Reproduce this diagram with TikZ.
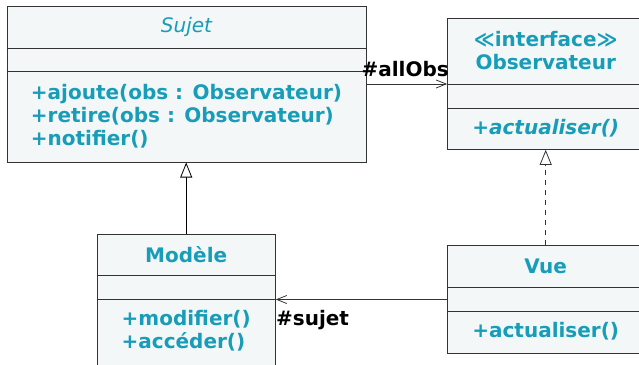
\documentclass[tikz,border=0pt]{standalone}
\usepackage{fontspec}
\setmainfont{DejaVu Sans}
\usetikzlibrary{arrows.meta,calc,positioning}

\definecolor{umlteal}{RGB}{23,157,184}
\definecolor{umlfill}{RGB}{244,247,248}
\definecolor{umlline}{RGB}{51,51,51}

\begin{document}
\begin{tikzpicture}[x=1pt,y=-1pt,
  classbox/.style={draw=umlline,fill=umlfill,line width=1pt,inner sep=0pt},
  sepline/.style={draw=umlline,line width=1pt},
  umltitle/.style={font=\fontsize{20}{23}\selectfont\bfseries,text=umlteal,align=center,inner sep=0pt},
  umlops/.style={font=\fontsize{20}{23}\selectfont\bfseries,text=umlteal,align=left,inner sep=0pt},
  role/.style={font=\fontsize{20}{23}\selectfont\bfseries,text=black,inner sep=0pt},
  inherit/.style={draw=black,line width=0.8pt,-{Triangle[open,length=15pt,width=12pt,fill=white]}},
  realize/.style={inherit,draw=umlline,dash pattern=on 5.5pt off 4.5pt},
  assoc/.style={draw=umlline,line width=0.8pt,-{Straight Barb[length=10pt,width=8pt,line width=0.8pt]}}]
\useasboundingbox (0,0) rectangle (639,364);
\clip (0,0) rectangle (639,364);

% Sujet
\node[classbox,minimum width=359pt,minimum height=156pt] (sujet) at (186.5,84) {};
\draw[sepline] (sujet.west |- 0,48.3) -- (sujet.east |- 0,48.3);
\draw[sepline] (sujet.west |- 0,71.7) -- (sujet.east |- 0,71.7);
\node[umltitle,font=\fontsize{20}{23}\selectfont\itshape] (sujetname) at (186.5,27) {Sujet};
\node[umlops] (sujetops) at (186.5,116) {+ajoute(obs : Observateur)\\+retire(obs : Observateur)\\+notifier()};

% Observateur
\node[classbox,minimum width=196pt,minimum height=131pt] (observateur) at (545.7,83.8) {};
\draw[sepline] (observateur.west |- 0,84.3) -- (observateur.east |- 0,84.3);
\draw[sepline] (observateur.west |- 0,108) -- (observateur.east |- 0,108);
\node[umltitle] (obsname) at (545.7,51) {≪interface≫\\Observateur};
\node[umlops,font=\fontsize{20}{23}\selectfont\bfseries\itshape] (obsops) at (545.7,128.5) {+actualiser()};

% Modele
\node[classbox,minimum width=178pt,minimum height=134pt] (modele) at (186.2,301) {};
\draw[sepline] (modele.west |- 0,275.3) -- (modele.east |- 0,275.3);
\draw[sepline] (modele.west |- 0,299.3) -- (modele.east |- 0,299.3);
\node[umltitle] (modelename) at (186.2,254.5) {Modèle};
\node[umlops] (modeleops) at (186.2,331) {+modifier()\\+accéder()};

% Vue
\node[classbox,minimum width=196pt,minimum height=107.6pt] (vue) at (545.7,299.5) {};
\draw[sepline] (vue.west |- 0,287.7) -- (vue.east |- 0,287.7);
\draw[sepline] (vue.west |- 0,311) -- (vue.east |- 0,311);
\node[umltitle] (vuename) at (545.7,266.5) {Vue};
\node[umlops] (vueops) at (545.7,331.5) {+actualiser()};

% Relations
\draw[inherit] (modele.north) -- (modele.north |- sujet.south);
\draw[realize] (vue.north) -- (observateur.south);
\draw[assoc] (sujet.east) -- (sujet.east -| observateur.west)
  node[role,pos=1,anchor=base east,xshift=2pt,yshift=8pt] (allobs) {\#allObs};
\draw[assoc] (vue.west) -- (vue.west -| modele.east)
  node[role,pos=1,anchor=base west,yshift=-26pt] (sujetrole) {\#sujet};
\end{tikzpicture}
\end{document}
